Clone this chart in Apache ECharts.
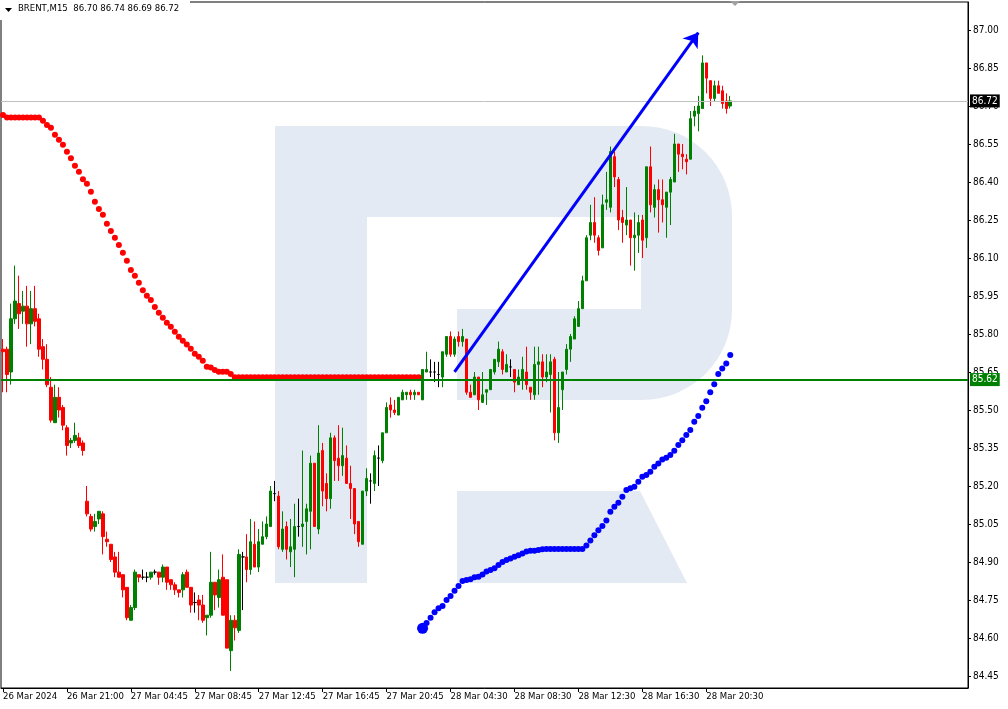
<!DOCTYPE html>
<html><head><meta charset="utf-8">
<script src="https://cdn.jsdelivr.net/npm/echarts@6/dist/echarts.min.js"></script>
<style>html,body{margin:0;padding:0;background:#fff}#c{width:1008px;height:709px}</style>
</head><body><div id="c"></div><script>
// ---- data ----
const opens = [85.74,85.74,85.65,85.86,85.92,85.89,85.91,85.84,85.90,85.86,
85.75,85.70,85.59,85.45,85.55,85.51,85.43,85.37,85.38,85.39,
85.37,85.14,85.08,85.04,85.07,85.09,84.99,84.97,84.92,84.86,
84.85,84.80,84.67,84.72,84.85,84.84,84.84,84.84,84.86,84.86,
84.84,84.88,84.83,84.81,84.79,84.79,84.86,84.80,84.74,84.75,
84.73,84.68,84.69,84.82,84.76,84.84,84.83,84.55,84.67,84.63,
84.92,84.92,84.87,84.97,84.88,84.97,85.00,85.04,85.17,85.16,
84.95,85.04,84.94,84.95,85.04,85.04,85.06,85.10,85.29,85.03,
85.34,85.21,85.15,85.39,85.31,85.28,85.31,85.21,85.19,85.06,
84.97,85.18,85.22,85.21,85.31,85.30,85.41,85.52,85.50,85.48,
85.54,85.56,85.57,85.56,85.57,85.54,85.65,85.65,85.65,85.64,
85.63,85.72,85.79,85.72,85.79,85.77,85.78,85.57,85.56,85.63,
85.53,85.57,85.58,85.65,85.69,85.73,85.65,85.67,85.66,85.60,
85.62,85.65,85.59,85.56,85.68,85.69,85.63,85.64,85.70,85.41,
85.58,85.66,85.74,85.78,85.83,85.90,86.01,86.19,86.24,86.18,
86.14,86.32,86.30,86.50,86.41,86.26,86.23,86.25,86.18,86.19,
86.25,86.18,86.46,86.30,86.37,86.33,86.30,86.36,86.40,86.55,
86.51,86.49,86.49,86.66,86.67,86.69,86.87,86.80,86.73,86.78,
86.76,86.72,86.70];
const highs = [85.78,85.75,85.92,86.07,86.03,85.97,85.99,85.97,85.99,85.88,
85.78,85.76,85.63,85.60,85.59,85.52,85.44,85.39,85.45,85.41,
85.38,85.20,85.09,85.09,85.10,85.10,85.02,84.97,84.94,84.94,
84.85,84.80,84.73,84.87,84.85,84.87,84.86,84.86,84.87,84.86,
84.89,84.88,84.83,84.82,84.79,84.86,84.87,84.80,84.78,84.77,
84.77,84.69,84.94,84.82,84.87,84.93,84.83,84.69,84.69,84.95,
84.94,85.01,85.07,85.06,85.03,85.06,85.08,85.20,85.22,85.18,
85.10,85.06,85.07,85.13,85.15,85.34,85.13,85.32,85.29,85.44,
85.37,85.25,85.41,85.40,85.44,85.43,85.36,85.28,85.19,85.06,
85.18,85.27,85.25,85.34,85.36,85.41,85.53,85.55,85.54,85.55,
85.58,85.57,85.58,85.58,85.57,85.66,85.73,85.70,85.69,85.69,
85.73,85.79,85.81,85.79,85.81,85.82,85.78,85.60,85.65,85.63,
85.65,85.58,85.66,85.70,85.77,85.74,85.72,85.70,85.66,85.66,
85.71,85.75,85.59,85.75,85.75,85.72,85.72,85.72,85.71,85.65,
85.65,85.76,85.80,85.87,85.93,86.03,86.19,86.31,86.34,86.19,
86.35,86.44,86.54,86.52,86.42,86.29,86.38,86.25,86.28,86.27,
86.27,86.46,86.54,86.39,86.41,86.41,86.36,86.42,86.59,86.55,
86.55,86.51,86.68,86.70,86.74,86.90,86.87,86.80,86.80,86.80,
86.78,86.75,86.74];
const lows = [85.57,85.57,85.60,85.84,85.82,85.84,85.75,85.76,85.83,85.71,
85.66,85.59,85.45,85.45,85.47,85.42,85.32,85.35,85.37,85.35,
85.32,85.08,85.02,85.02,85.05,84.93,84.96,84.90,84.84,84.84,
84.76,84.67,84.67,84.71,84.82,84.83,84.82,84.83,84.85,84.81,
84.82,84.79,84.79,84.77,84.76,84.76,84.80,84.70,84.70,84.67,
84.66,84.61,84.68,84.71,84.72,84.69,84.56,84.47,84.59,84.62,
84.71,84.82,84.85,84.88,84.86,84.97,84.99,85.04,85.14,84.95,
84.94,84.91,84.88,84.84,85.00,84.96,84.93,84.95,85.04,85.01,
85.12,85.10,85.11,85.22,85.22,85.24,85.21,85.07,85.01,84.96,
84.97,85.16,85.13,85.18,85.20,85.29,85.41,85.47,85.48,85.48,
85.54,85.54,85.54,85.54,85.56,85.54,85.65,85.63,85.61,85.59,
85.59,85.71,85.71,85.71,85.75,85.75,85.56,85.55,85.56,85.50,
85.53,85.52,85.58,85.64,85.67,85.64,85.65,85.63,85.57,85.60,
85.58,85.58,85.54,85.54,85.56,85.59,85.61,85.49,85.38,85.37,
85.50,85.64,85.69,85.78,85.83,85.90,86.01,86.17,86.16,86.11,
86.14,86.29,86.28,86.38,86.21,86.16,86.19,86.07,86.05,86.12,
86.10,86.14,86.28,86.26,86.20,86.24,86.18,86.23,86.40,86.44,
86.45,86.43,86.49,86.62,86.60,86.69,86.75,86.70,86.72,86.75,
86.69,86.67,86.69];
const closes = [85.73,85.64,85.86,85.93,85.88,85.91,85.84,85.90,85.85,85.74,
85.70,85.60,85.46,85.55,85.50,85.44,85.36,85.38,85.40,85.36,
85.34,85.09,85.03,85.06,85.10,85.00,84.98,84.91,84.86,84.84,
84.79,84.68,84.72,84.86,84.84,84.84,84.84,84.86,84.86,84.84,
84.88,84.82,84.81,84.79,84.78,84.85,84.80,84.73,84.74,84.73,
84.67,84.69,84.82,84.77,84.83,84.69,84.56,84.67,84.64,84.93,
84.92,84.87,84.98,84.88,84.98,85.00,85.05,85.18,85.17,84.96,
85.03,84.95,84.96,85.04,85.04,85.05,85.11,85.29,85.04,85.33,
85.18,85.15,85.39,85.30,85.28,85.32,85.21,85.19,85.05,84.98,
85.18,85.23,85.22,85.32,85.31,85.41,85.51,85.50,85.49,85.55,
85.57,85.57,85.56,85.57,85.56,85.66,85.66,85.65,85.65,85.64,
85.73,85.79,85.72,85.78,85.77,85.79,85.57,85.55,85.63,85.54,
85.56,85.58,85.66,85.70,85.74,85.66,85.68,85.67,85.61,85.63,
85.66,85.60,85.57,85.68,85.69,85.63,85.65,85.69,85.41,85.51,
85.65,85.74,85.79,85.86,85.90,86.01,86.18,86.24,86.19,86.13,
86.31,86.33,86.52,86.42,86.25,86.24,86.25,86.18,86.19,86.24,
86.17,86.46,86.31,86.37,86.33,86.31,86.36,86.41,86.55,86.51,
86.50,86.48,86.65,86.68,86.70,86.87,86.81,86.73,86.78,86.75,
86.71,86.69,86.72];
// red dotted indicator, starting at candle 0
const redDots = [86.664,86.655,86.655,86.655,86.655,86.655,86.655,86.655,86.655,86.655,
86.642,86.625,86.614,86.586,86.567,86.547,86.519,86.494,86.464,86.440,
86.411,86.393,86.361,86.322,86.293,86.271,86.235,86.207,86.180,86.151,
86.121,86.089,86.053,86.030,86.002,85.973,85.951,85.934,85.907,85.884,
85.864,85.844,85.829,85.809,85.789,85.773,85.759,85.742,85.722,85.710,
85.694,85.671,85.668,85.658,85.651,85.651,85.651,85.642,85.629,85.629,
85.629,85.629,85.629,85.629,85.629,85.629,85.629,85.629,85.629,85.629,
85.629,85.629,85.629,85.629,85.629,85.629,85.629,85.629,85.629,85.629,
85.629,85.629,85.629,85.629,85.629,85.629,85.629,85.629,85.629,85.629,
85.629,85.629,85.629,85.629,85.629,85.629,85.629,85.629,85.629,85.629,
85.629,85.629,85.629,85.629,85.629];
// blue dotted indicator, starting at candle blueStart
const blueStart = 105;
const blueDots = [84.638,84.659,84.680,84.702,84.717,84.726,84.750,84.766,84.786,84.805,
84.825,84.829,84.832,84.840,84.842,84.851,84.862,84.868,84.875,84.888,
84.900,84.908,84.914,84.921,84.927,84.934,84.941,84.944,84.944,84.947,
84.950,84.951,84.951,84.951,84.951,84.951,84.951,84.951,84.951,84.951,
84.951,84.965,84.985,85.006,85.025,85.042,85.064,85.098,85.118,85.134,
85.158,85.184,85.191,85.197,85.217,85.236,85.243,85.256,85.276,85.289,
85.305,85.311,85.322,85.339,85.362,85.381,85.401,85.421,85.454,85.476,
85.509,85.535,85.570,85.602,85.642,85.664,85.684,85.717];
const xTickLabels = ['26 Mar 2024','26 Mar 21:00','27 Mar 04:45','27 Mar 08:45','27 Mar 12:45','27 Mar 16:45',
  '27 Mar 20:45','28 Mar 04:30','28 Mar 08:30','28 Mar 12:30','28 Mar 16:30','28 Mar 20:30'];
const xTickEvery = 16;
const yTicks = [84.45,84.60,84.75,84.90,85.05,85.20,85.35,85.50,85.65,85.80,85.95,86.10,86.25,86.40,86.55,86.70,86.85,87.00];
const bidPrice = 86.72;
const levelPrice = 85.62;
const arrowFrom = [113, 85.65];
const arrowTo = [174, 86.99];
const titleText = 'BRENT,M15  86.70 86.74 86.69 86.72';
const totalSlots = 242;

// ---- build ----
const FONT = "'DejaVu Sans Condensed','DejaVu Sans','Liberation Sans',sans-serif";
const categories = Array.from({length: totalSlots}, (_, i) => String(i));
const candleData = opens.map((o, i) => [o, closes[i], lows[i], highs[i]]);
const redData = redDots.map((v, i) => [i, v]);
const blueData = blueDots.map((v, i) => [blueStart + i, v]);
const showTick = (i) => i % xTickEvery === 0 && i / xTickEvery < xTickLabels.length;
const wm = '#e4eaf3';

const chart = echarts.init(document.getElementById('c'), null, {renderer: 'canvas'});
chart.setOption({
  animation: false,
  backgroundColor: '#ffffff',
  grid: {left: 1, right: 40, top: 2, bottom: 21, show: true, borderColor: '#000', borderWidth: 1},
  xAxis: {
    type: 'category', data: categories, boundaryGap: true,
    axisLine: {show: true, lineStyle: {color: '#000', width: 1}},
    axisTick: {show: true, alignWithLabel: true, interval: showTick, length: 4, lineStyle: {color: '#000'}},
    axisLabel: {interval: showTick, formatter: (v, i) => xTickLabels[i / xTickEvery] || '',
      align: 'left', margin: 4, color: '#000', fontSize: 9.5, fontFamily: FONT},
    splitLine: {show: false}
  },
  yAxis: {
    type: 'value', position: 'right', min: 84.4026, max: 87.1105,
    axisLine: {show: true, lineStyle: {color: '#000', width: 1}},
    axisTick: {show: true, customValues: yTicks, length: 3, lineStyle: {color: '#000'}},
    axisLabel: {customValues: yTicks, formatter: (v) => v.toFixed(2), margin: 5, color: '#000', fontSize: 10, fontFamily: FONT},
    splitLine: {show: false}
  },
  graphic: [
    {type: 'rect', z: -10, silent: true, shape: {x: 275, y: 126, width: 92, height: 457}, style: {fill: wm}},
    {type: 'rect', z: -10, silent: true, shape: {x: 366, y: 126, width: 276, height: 91}, style: {fill: wm}},
    {type: 'rect', z: -10, silent: true, shape: {x: 641, y: 126, width: 91, height: 274, r: [0, 90, 90, 0]}, style: {fill: wm}},
    {type: 'rect', z: -10, silent: true, shape: {x: 457, y: 309, width: 185, height: 91}, style: {fill: wm}},
    {type: 'polygon', z: -10, silent: true, shape: {points: [[457, 491], [640, 491], [687, 583], [457, 583]]}, style: {fill: wm}},
    {type: 'rect', z: 50, silent: true, shape: {x: 0, y: 0, width: 190, height: 20}, style: {fill: '#fff'}},
    {type: 'polygon', z: 51, silent: true, shape: {points: [[5, 8], [12, 8], [8.5, 12]]}, style: {fill: '#000'}},
    {type: 'text', z: 51, silent: true, x: 18, y: 4, style: {text: titleText, fill: '#000', font: '9.5px ' + FONT}},
    {type: 'polygon', z: 51, silent: true, shape: {points: [[730, 1], [740, 1], [735, 6]]}, style: {fill: '#a0a0a0'}}
  ],
  series: [
    {
      type: 'candlestick', data: candleData, barWidth: 3,
      itemStyle: {color: '#008000', color0: '#ff0000', borderColor: '#008000', borderColor0: '#ff0000',
        borderColorDoji: '#000000', borderWidth: 1},
      emphasis: {disabled: true},
      markLine: {
        silent: true, symbol: ['none', 'none'], animation: false,
        data: [
          {yAxis: bidPrice, lineStyle: {color: '#c0c0c0', width: 1, type: 'solid'},
            label: {show: true, position: 'end', distance: 2, formatter: bidPrice.toFixed(2), color: '#fff',
              backgroundColor: '#000', padding: [2, 2, 1, 2], fontSize: 10, fontFamily: FONT}},
          {yAxis: levelPrice, lineStyle: {color: '#008000', width: 2, type: 'solid'},
            label: {show: true, position: 'end', distance: 2, formatter: levelPrice.toFixed(2), color: '#fff',
              backgroundColor: '#008000', padding: [2, 2, 1, 2], fontSize: 10, fontFamily: FONT}}
        ]
      }
    },
    {type: 'scatter', data: redData, symbol: 'circle', symbolSize: 6, itemStyle: {color: '#ff0000', opacity: 1}, emphasis: {disabled: true}, z: 3},
    {type: 'scatter', data: blueData, symbol: 'circle', symbolSize: 6, itemStyle: {color: '#0000ff', opacity: 1}, emphasis: {disabled: true}, z: 3,
      markLine: {
        silent: true, animation: false, symbol: ['none', 'arrow'], symbolSize: 14,
        lineStyle: {color: '#0000ff', width: 3, type: 'solid', opacity: 1}, label: {show: false},
        data: [[{coord: arrowFrom}, {coord: arrowTo}]]
      }},
    {type: 'scatter', data: [[blueStart, blueDots[0]]], symbol: 'circle', symbolSize: 11, itemStyle: {color: '#0000ff', opacity: 1}, emphasis: {disabled: true}, z: 4}
  ]
});
</script></body></html>
